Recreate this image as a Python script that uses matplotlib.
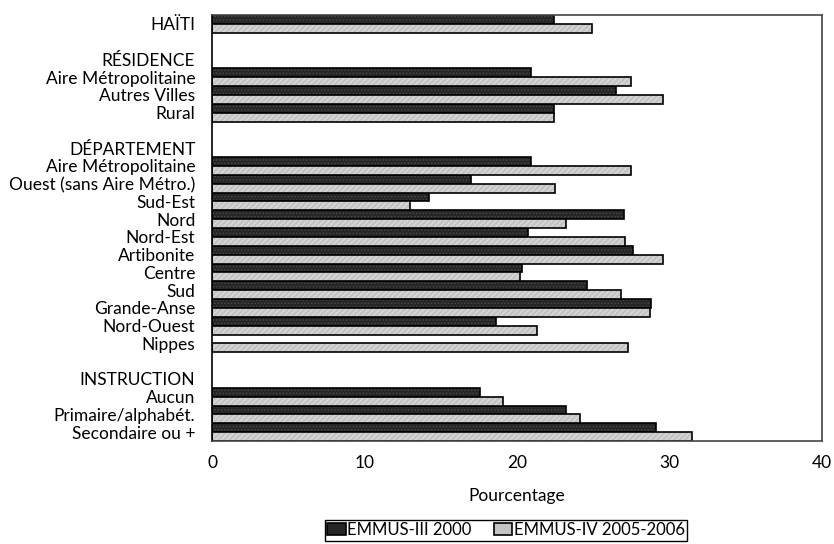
import numpy as np
import matplotlib.pyplot as plt

plt.rcParams['font.family'] = ['Lato', 'DejaVu Sans']
plt.rcParams['hatch.linewidth'] = 0.6

labels = ["HAÏTI", "", "RÉSIDENCE", "Aire Métropolitaine", "Autres Villes", "Rural",
          "", "DÉPARTEMENT", "Aire Métropolitaine", "Ouest (sans Aire Métro.)", "Sud-Est",
          "Nord", "Nord-Est", "Artibonite", "Centre", "Sud", "Grande-Anse", "Nord-Ouest",
          "Nippes", "", "INSTRUCTION", "Aucun", "Primaire/alphabét.", "Secondaire ou +"]

nan = np.nan
emmus_3 = [22.4, nan, nan, 20.9, 26.5, 22.4,
           nan, nan, 20.9, 17.0, 14.2,
           27.0, 20.7, 27.6, 20.3, 24.6, 28.8, 18.6,
           nan, nan, nan, 17.6, 23.2, 29.1]
emmus_4 = [24.9, nan, nan, 27.5, 29.6, 22.4,
           nan, nan, 27.5, 22.5, 13.0,
           23.2, 27.1, 29.6, 20.2, 26.8, 28.7, 21.3,
           27.3, nan, nan, 19.1, 24.1, 31.5]
series_names = ["EMMUS-III 2000", "EMMUS-IV 2005-2006"]

y = np.arange(len(labels))

fig = plt.figure(figsize=(8.34, 5.44), dpi=100)
ax = fig.add_axes([0.2542, 0.1893, 0.7314, 0.7831])

dark = dict(color='#262626', edgecolor='#4a4a4a', hatch='.....', linewidth=0)
light = dict(color='#c4c4c4', edgecolor='#e6e6e6', hatch='//////', linewidth=0)
outline = dict(fill=False, edgecolor='black', linewidth=1.2)

ax.barh(y - 0.25, emmus_3, height=0.5, **dark)
ax.barh(y - 0.25, emmus_3, height=0.5, **outline)
ax.barh(y + 0.25, emmus_4, height=0.5, **light)
ax.barh(y + 0.25, emmus_4, height=0.5, **outline)

ax.set_xlim(0, 40)
ax.set_ylim(len(labels) - 0.5, -0.5)
ax.set_xticks([0, 10, 20, 30, 40])
ax.set_yticks(y)
ax.set_yticklabels(labels, fontsize=12.5)
ax.tick_params(axis='x', length=0, pad=10, labelsize=12.5)
ax.tick_params(axis='y', length=0, pad=12)
ax.set_xlabel("Pourcentage", fontsize=12.5, labelpad=12)

for s in ['top', 'right', 'bottom']:
    ax.spines[s].set_color('#444444')
    ax.spines[s].set_linewidth(1.2)
ax.spines['left'].set_color('black')
ax.spines['left'].set_linewidth(1.2)

h1 = (plt.Rectangle((0, 0), 1, 1, **dark), plt.Rectangle((0, 0), 1, 1, **outline))
h2 = (plt.Rectangle((0, 0), 1, 1, **light), plt.Rectangle((0, 0), 1, 1, **outline))
leg = fig.legend([h1, h2], series_names, ncol=2, loc='center',
                 bbox_to_anchor=(506 / 834, 1 - 530 / 544), fontsize=12,
                 handlelength=1.1, handleheight=0.75, handletextpad=0.1,
                 columnspacing=1.3, borderpad=0.15, fancybox=False,
                 edgecolor='black', framealpha=1)
leg.get_frame().set_linewidth(1.0)

fig.savefig("out.png", dpi=100)
